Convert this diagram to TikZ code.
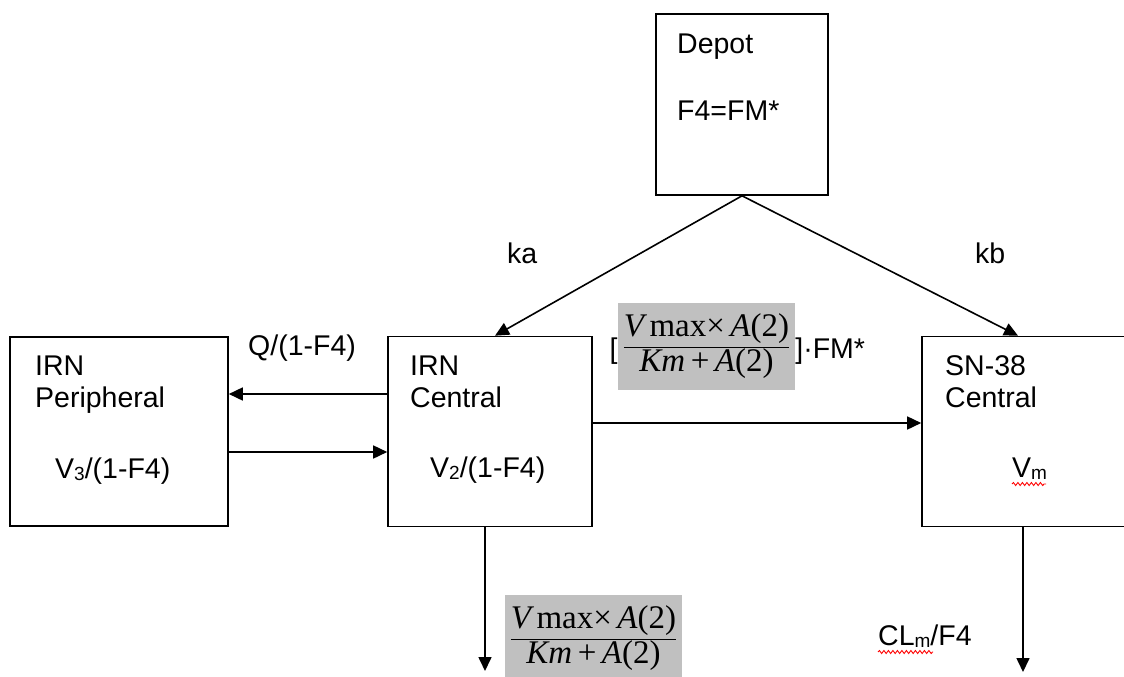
\documentclass[tikz,border=0pt]{standalone}
\usepackage{fontspec}
\setmainfont{Liberation Sans}
\newfontfamily\fracfont{Liberation Serif}
\usetikzlibrary{arrows.meta,positioning,decorations.pathmorphing}
\definecolor{boxgray}{RGB}{192,192,192}
\newcommand\lowidx[1]{\raisebox{-2.5pt}{\fontsize{19}{19}\selectfont #1}}
\newcommand\ratefrac{$\displaystyle\frac{\mbox{\itshape V\,\upshape max×\,\itshape A\upshape(2)}}{\mbox{\itshape Km\upshape\,+\,\itshape A\upshape(2)}}$}
\tikzset{
  comp/.style={draw,line width=1.6pt,inner sep=0pt},
  txt/.style={font=\fontsize{28.5}{34}\selectfont,inner sep=0pt,anchor=base west},
  flow/.style={-{Triangle[length=14pt,width=13pt]},line width=1.6pt},
  rate/.style={fill=boxgray,inner sep=0pt,minimum width=177pt,font=\fontsize{33}{38}\fracfont},
  squiggle/.style={red,line width=0.9pt,decorate,decoration={snake,amplitude=1.5pt,segment length=4.5pt}}
}
\begin{document}
\begin{tikzpicture}[x=1pt,y=-1pt]
  \useasboundingbox (0,0) rectangle (1124,677);
  %% compartments
  \node[comp,minimum width=172pt,minimum height=181pt] (depot) at (742,104.5) {};
  \node[comp,minimum width=218pt,minimum height=189pt] (periph) at (119,431.5) {};
  \node[comp,minimum width=204pt,minimum height=190pt] (central) at (490,431.5) {};
  \node[comp,minimum width=204pt,minimum height=190pt] (sn) at (1024,431.5) {};

  %% compartment texts
  \node[txt] (depotname) at (677,54) {Depot};
  \node[txt] (depotf) at (677,120) {F4=FM*};
  \node[txt] (periphname) at (35,375) {IRN};
  \node[txt] (periphname2) at (35,407) {Peripheral};
  \node[txt] (periphvol) at (55,478) {V\lowidx{3}/(1-F4)};
  \node[txt] (centralname) at (410,375) {IRN};
  \node[txt] (centralname2) at (410,407) {Central};
  \node[txt] (centralvol) at (430,477) {V\lowidx{2}/(1-F4)};
  \node[txt] (snname) at (945,375) {SN-38};
  \node[txt] (snname2) at (945,407) {Central};
  \node[txt] (snvol) at (1012,477) {V\lowidx{m}};

  %% rate labels
  \node[txt] (kalbl) at (507,263) {ka};
  \node[txt] (kblbl) at (975,263) {kb};
  \node[txt] (qlbl) at (248,355) {Q/(1-F4)};
  \node[rate,minimum height=87pt] (convfrac) at (706.5,346.5) {\ratefrac};
  \node[txt,anchor=base east] (lbrk) at (convfrac.west |- 0,358) {[};
  \node[txt] (fmlbl) at (convfrac.east |- 0,358) {]·FM*};
  \node[rate,minimum height=86pt] (elimfrac) at (593.5,638) {\ratefrac};
  \node[txt] (cllbl) at (878,645) {CL\lowidx{m}/F4};

  %% free ends
  \coordinate (centralout) at (485,671);
  \coordinate (snout) at (1023,672);

  %% connectors
  \draw[flow] (depot.south) -- ([xshift=5pt]central.north);
  \draw[flow] (depot.south) -- ([xshift=-6pt]sn.north);
  \draw[flow] ([yshift=37.5pt]central.west) -- ([yshift=37.5pt]periph.east);
  \draw[flow] ([yshift=-20.5pt]periph.east) -- ([yshift=-20.5pt]central.west);
  \draw[flow] ([yshift=8.5pt]central.east) -- ([yshift=8.5pt]sn.west);
  \draw[flow] (central.south -| centralout) -- (centralout);
  \draw[flow] (sn.south -| snout) -- (snout);

  %% spelling marks
  \draw[squiggle] ([yshift=-7pt]cllbl.base west) -- ++(55,0);
  \draw[squiggle] ([yshift=-7pt]snvol.base west) -- ++(34,0);
\end{tikzpicture}
\end{document}
